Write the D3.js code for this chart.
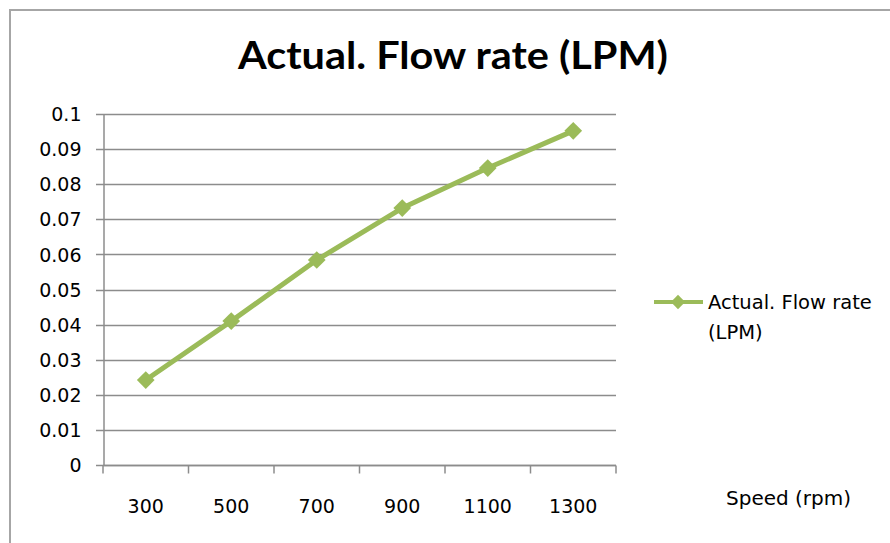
<!DOCTYPE html>
<html><head><meta charset="utf-8">
<script src="https://cdn.jsdelivr.net/npm/d3@7"></script>
<style>body{margin:0;background:#fff}svg{display:block}</style>
</head><body>
<svg id="c" width="890" height="543"></svg>
<script>
const categories = ["300","500","700","900","1100","1300"];
const values = [0.0242, 0.041, 0.0584, 0.0732, 0.0846, 0.0952];
const yTicks = [0,0.01,0.02,0.03,0.04,0.05,0.06,0.07,0.08,0.09,0.1];
const yTickLabels = ["0","0.01","0.02","0.03","0.04","0.05","0.06","0.07","0.08","0.09","0.1"];
const seriesName = "Actual. Flow rate (LPM)";
const titleText = "Actual. Flow rate (LPM)";
const xTitle = "Speed (rpm)";

const svg = d3.select("#c");
const green = "#9bbb59", grid = "#8c8c8c", axisC = "#8c8c8c";
const font = "'DejaVu Sans', Verdana, sans-serif";

// outer frame
svg.append("line").attr("x1",10).attr("x2",890).attr("y1",10).attr("y2",10).attr("stroke","#a6a6a6").attr("stroke-width",2);
svg.append("line").attr("x1",10).attr("x2",10).attr("y1",9).attr("y2",543).attr("stroke","#a6a6a6").attr("stroke-width",2);

const x = d3.scaleBand().domain(categories).range([103,616]);
const y = d3.scaleLinear().domain([0,0.1]).range([465,114]);

// gridlines
svg.append("g").selectAll("line").data(yTicks).join("line")
  .attr("x1",96).attr("x2",616).attr("y1",d=>Math.round(y(d))+0.5).attr("y2",d=>Math.round(y(d))+0.5)
  .attr("stroke",grid).attr("stroke-width",1.5);

// y axis
const yAxis = d3.axisLeft(y).tickValues(yTicks).tickFormat((d,i)=>yTickLabels[i]).tickSize(0).tickPadding(22);
const gy = svg.append("g").attr("transform","translate(103.5,0)").call(yAxis);
gy.select(".domain").attr("stroke",axisC).attr("stroke-width",1.5);
gy.selectAll("text").attr("font-family",font).attr("font-size",19).attr("fill","#000").attr("dy","0.35em");

// x axis
const gx = svg.append("g").attr("transform","translate(0,465.5)");
gx.append("line").attr("x1",103).attr("x2",616).attr("y1",0).attr("y2",0).attr("stroke",axisC).attr("stroke-width",1.5);
const edges = categories.map(c=>x(c)).concat([x.range()[1]]);
gx.selectAll("line.t").data(edges).join("line").attr("class","t")
  .attr("x1",d=>d).attr("x2",d=>d).attr("y1",0).attr("y2",8).attr("stroke",axisC).attr("stroke-width",1.5);
gx.selectAll("text").data(categories).join("text")
  .attr("x",d=>x(d)+x.bandwidth()/2).attr("y",47).attr("text-anchor","middle")
  .attr("font-family",font).attr("font-size",19).attr("fill","#000").text(d=>d);

// line
const cx = (d,i)=>x(categories[i])+x.bandwidth()/2;
svg.append("path").datum(values)
  .attr("d", d3.line().x(cx).y(d=>y(d)))
  .attr("fill","none").attr("stroke",green).attr("stroke-width",5).attr("stroke-linejoin","round");
const diamond = d3.symbol().type(d3.symbolDiamond2).size(200);
svg.append("g").selectAll("path").data(values).join("path")
  .attr("transform",(d,i)=>`translate(${cx(d,i)},${y(d)})`)
  .attr("d",diamond()).attr("fill",green);

// title
svg.append("text").attr("x",453).attr("y",69).attr("text-anchor","middle")
  .attr("font-family","Lato, 'Open Sans', sans-serif").attr("font-weight",700).attr("font-size",38)
  .attr("textLength",430).attr("lengthAdjust","spacingAndGlyphs").attr("fill","#000").text(titleText);

// legend
const lg = svg.append("g");
lg.append("line").attr("x1",654).attr("x2",703).attr("y1",302).attr("y2",302).attr("stroke",green).attr("stroke-width",4);
lg.append("path").attr("transform","translate(678,302)").attr("d",d3.symbol().type(d3.symbolDiamond2).size(130)()).attr("fill",green);
const words = seriesName.split(" ");
const line1 = words.slice(0,3).join(" "), line2 = words.slice(3).join(" ");
lg.append("text").attr("x",708).attr("y",309).attr("font-family",font).attr("font-size",19.5).attr("fill","#000").text(line1);
lg.append("text").attr("x",708).attr("y",339).attr("font-family",font).attr("font-size",19.5).attr("fill","#000").text(line2);

// x axis title
svg.append("text").attr("x",726).attr("y",505).attr("font-family",font).attr("font-size",20).attr("fill","#000").text(xTitle);
</script>
</body></html>
